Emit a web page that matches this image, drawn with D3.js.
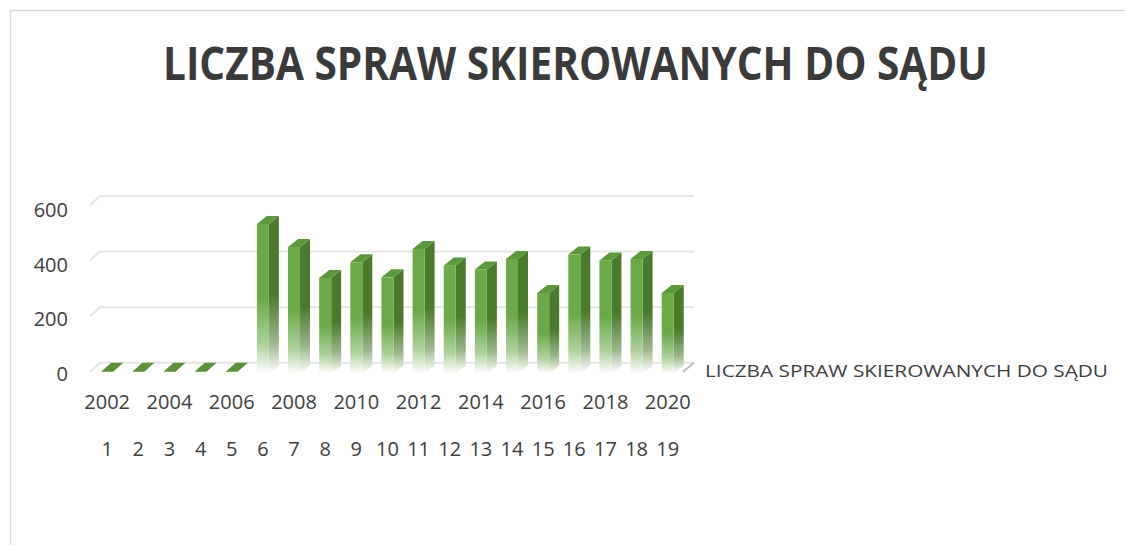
<!DOCTYPE html>
<html><head><meta charset="utf-8">
<script src="https://cdn.jsdelivr.net/npm/d3@7"></script>
<style>
html,body{margin:0;padding:0;background:#fff;}
svg{display:block;}
text{font-family:"Open Sans",sans-serif;}
</style></head>
<body>
<svg id="chart" width="1125" height="545"></svg>
<script>
const title = "LICZBA SPRAW SKIEROWANYCH DO SĄDU";
const seriesName = "LICZBA SPRAW SKIEROWANYCH DO SĄDU";
const years = [2002,2003,2004,2005,2006,2007,2008,2009,2010,2011,2012,2013,2014,2015,2016,2017,2018,2019,2020];
const indexLabels = [1,2,3,4,5,6,7,8,9,10,11,12,13,14,15,16,17,18,19];
const values = [0,0,0,0,0,528,445,334,390,336,438,379,364,402,280,418,397,402,280];
const yTicks = [0,200,400,600];

const svg = d3.select("#chart");

// frame
svg.append("rect").attr("x",10.5).attr("y",10.5).attr("width",1140).attr("height",560)
  .attr("fill","#fff").attr("stroke","#d9d9d9").attr("stroke-width",1.5);

// title
svg.append("text").attr("x",575.5).attr("y",80).attr("text-anchor","middle")
  .attr("font-size",46).attr("font-weight",700).attr("fill","#3a3a3a")
  .attr("textLength",825).attr("lengthAdjust","spacingAndGlyphs").text(title);

// 3D geometry
const wallDx = 10, wallDy = -9;      // floor depth offset
const barDx = 10, barDy = -8;        // bar depth offset
const y = d3.scaleLinear().domain([0,600]).range([362.7,196]);  // back wall plane
const yLabel = d3.scaleLinear().domain([0,600]).range([374,210.5]); // label plane
const x = d3.scaleBand().domain(d3.range(values.length)).range([96.6,688.3]);
const faceW = 12;

// gridlines on back wall with left wall diagonal
const grid = svg.append("g");
yTicks.forEach(v=>{
  const yy = y(v);
  grid.append("path")
    .attr("d",`M${100-wallDx},${yy-wallDy} L100,${yy} L694,${yy}`)
    .attr("fill","none").attr("stroke","#e6e6e6").attr("stroke-width",2);
});
// right floor edge
grid.append("line").attr("x1",683).attr("y1",y(0)-wallDy).attr("x2",694).attr("y2",y(0))
  .attr("stroke","#bfbfbf").attr("stroke-width",2);

// gradients
const defs = svg.append("defs");
function grad(id,color){
  const g = defs.append("linearGradient").attr("id",id)
    .attr("x1",0).attr("y1",0).attr("x2",0).attr("y2",1);
  g.append("stop").attr("offset",0).attr("stop-color",color);
  g.append("stop").attr("offset",0.5).attr("stop-color",color);
  g.append("stop").attr("offset",0.8).attr("stop-color",d3.interpolateRgb(color,"#fff")(0.45));
  g.append("stop").attr("offset",1).attr("stop-color","#fff");
}
grad("gFront","#6aab48");
grad("gSide","#4a7a2c");

// bars
const bars = svg.append("g");
values.forEach((v,i)=>{
  const x0 = x(i) + (x.bandwidth() - faceW - barDx)/2;
  const frontBottom = y(0) - wallDy + 2;
  const frontTop = y(v) - barDy;
  if (v > 0) {
    bars.append("path")
      .attr("d",`M${x0+faceW},${frontTop} L${x0+faceW+barDx},${frontTop+barDy} L${x0+faceW+barDx},${frontBottom+barDy} L${x0+faceW},${frontBottom} Z`)
      .attr("fill","url(#gSide)");
    bars.append("rect").attr("x",x0).attr("y",frontTop).attr("width",faceW)
      .attr("height",frontBottom-frontTop).attr("fill","url(#gFront)");
    bars.append("path")
      .attr("d",`M${x0},${frontTop} L${x0+faceW},${frontTop} L${x0+faceW+barDx},${frontTop+barDy} L${x0+barDx},${frontTop+barDy} Z`)
      .attr("fill","#5b9a3a");
  } else {
    const fb = y(0) - wallDy;
    bars.append("path")
      .attr("d",`M${x0},${fb} L${x0+faceW},${fb} L${x0+faceW+wallDx},${fb+wallDy} L${x0+wallDx},${fb+wallDy} Z`)
      .attr("fill","#5a9237");
  }
});

// y axis labels
const yAxis = d3.axisLeft(yLabel).tickValues(yTicks).tickSize(0).tickPadding(10);
const yg = svg.append("g").attr("transform","translate(78,0)").call(yAxis);
yg.select(".domain").remove();
yg.selectAll("text").attr("font-size",20).attr("fill","#404040").attr("font-family","Open Sans");

// x axis labels: years (every other) and index row
const xAxisYears = d3.axisBottom(x).tickSize(0).tickPadding(0)
  .tickFormat(i => i % 2 === 0 ? years[i] : "");
const xg1 = svg.append("g").attr("transform","translate(-5,395)").call(xAxisYears);
xg1.select(".domain").remove();
xg1.selectAll("text").attr("font-size",20).attr("fill","#404040").attr("font-family","Open Sans");

const xAxisIdx = d3.axisBottom(x).tickSize(0).tickPadding(0)
  .tickFormat(i => indexLabels[i]);
const xg2 = svg.append("g").attr("transform","translate(-5,442)").call(xAxisIdx);
xg2.select(".domain").remove();
xg2.selectAll("text").attr("font-size",20).attr("fill","#404040").attr("font-family","Open Sans");

// series (depth axis) label
svg.append("text").attr("x",705).attr("y",377).attr("font-size",17).attr("fill","#404040")
  .attr("textLength",403).attr("lengthAdjust","spacingAndGlyphs").text(seriesName);
</script>
</body></html>
